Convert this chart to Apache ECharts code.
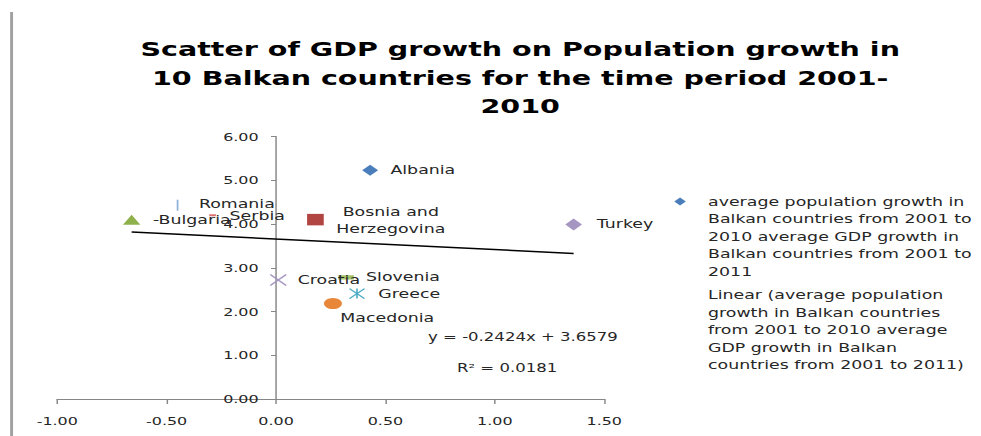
<!DOCTYPE html>
<html>
<head>
<meta charset="utf-8">
<script src="https://cdn.jsdelivr.net/npm/echarts@6.0.0/dist/echarts.min.js"></script>
<style>
  html, body { margin: 0; padding: 0; background: #fff; overflow: hidden; width: 981px; height: 436px; }
  /* chart is laid out at a narrower width and widened horizontally */
  #chart { width: 677px; height: 436px; transform: scaleX(1.44904); transform-origin: 0 0; }
</style>
</head>
<body>
<div id="chart"></div>
<script>
// ---- data ----
const countries = ['Albania', 'Bosnia and Herzegovina', 'Turkey', 'Bulgaria', 'Romania',
                   'Serbia', 'Croatia', 'Slovenia', 'Greece', 'Macedonia'];
// average population growth 2001-2010 (%)
const popGrowth = [0.43, 0.18, 1.36, -0.66, -0.45, -0.29, 0.01, 0.32, 0.37, 0.26];
// average GDP growth 2001-2011 (%)
const gdpGrowth = [5.23, 4.10, 3.99, 4.10, 4.43, 4.20, 2.72, 2.78, 2.41, 2.18];

const xTickValues = [-1.00, -0.50, 0.00, 0.50, 1.00, 1.50];
const yTickValues = [0.00, 1.00, 2.00, 3.00, 4.00, 5.00, 6.00];

// linear trendline fitted to the points
const trendSlope = -0.2424;
const trendIntercept = 3.6579;
const trendR2 = 0.0181;

const titleLines = [
  'Scatter of GDP growth on Population growth in',
  '10 Balkan countries for the time period 2001-',
  '2010'
];
const seriesName = 'average population growth in Balkan countries from 2001 to 2010 average GDP growth in Balkan countries from 2001 to 2011';
const trendName = 'Linear (' + seriesName + ')';
const legendLines = [
  'average population growth in',
  'Balkan countries from 2001 to',
  '2010 average GDP growth in',
  'Balkan countries from 2001 to',
  '2011'
];
const trendLegendLines = [
  'Linear (average population',
  'growth in Balkan countries',
  'from 2001 to 2010 average',
  'GDP growth in Balkan',
  'countries from 2001 to 2011)'
];

// ---- styling ----
const FONT = 'DejaVu Sans';
const TEXT = '#262626';
const AXIS = '#868686';

// text shown next to a point when it differs from the country name
const labelText = {
  'Bulgaria': '-Bulgaria',
  'Bosnia and Herzegovina': 'Bosnia and\nHerzegovina'
};

const markerStyle = {
  'Albania':                { symbol: 'diamond', size: [11, 11], fill: '#4a7ebb' },
  'Bosnia and Herzegovina': { symbol: 'rect', size: [11.5, 11.5], fill: '#b04542' },
  'Turkey':                 { symbol: 'diamond', size: [11.5, 12], fill: '#a596c2' },
  'Bulgaria':               { symbol: 'triangle', size: [12, 10], fill: '#8fb14c' },
  'Romania':                { symbol: 'rect', size: [1.2, 11], fill: '#8fb0d8' },
  'Serbia':                 { symbol: 'rect', size: [4.6, 2], fill: '#e07070' },
  'Croatia':                { symbol: 'path://M0,0L10,10M10,0L0,10', size: [11, 11], stroke: '#a596c2' },
  'Slovenia':               { symbol: 'rect', size: [10.8, 4.3], fill: '#a3c26a' },
  'Greece':                 { symbol: 'path://M0,0L10,10M10,0L0,10M5,0L5,10', size: [10.4, 10], stroke: '#4bacc6' },
  'Macedonia':              { symbol: 'circle', size: [12.4, 11], fill: '#e8873a' }
};

const labelPlacement = {
  'Albania':                { align: 'left', dx: 14, dy: 0 },
  'Bosnia and Herzegovina': { align: 'center', dx: 52, dy: 1 },
  'Turkey':                 { align: 'left', dx: 16, dy: 0 },
  'Bulgaria':               { align: 'left', dx: 14.7, dy: 0 },
  'Romania':                { align: 'left', dx: 14.7, dy: -1 },
  'Serbia':                 { align: 'left', dx: 11.7, dy: 1 },
  'Croatia':                { align: 'left', dx: 13.4, dy: 0 },
  'Slovenia':               { align: 'left', dx: 13.8, dy: 0 },
  'Greece':                 { align: 'left', dx: 14.7, dy: 0 },
  'Macedonia':              { align: 'center', dx: 37.5, dy: 14 }
};

const points = countries.map(function (name, i) {
  const m = markerStyle[name];
  const p = labelPlacement[name];
  return {
    name: name,
    value: [popGrowth[i], gdpGrowth[i]],
    symbol: m.symbol,
    symbolSize: m.size,
    itemStyle: m.stroke
      ? { color: 'rgba(0,0,0,0)', borderColor: m.stroke, borderWidth: 1.1, opacity: 1 }
      : { color: m.fill, opacity: 1 },
    label: {
      show: true,
      formatter: labelText[name] || name,
      position: 'inside',
      align: p.align,
      verticalAlign: 'middle',
      offset: [p.dx, p.dy],
      color: TEXT,
      fontFamily: FONT,
      fontSize: 12,
      lineHeight: 17.5
    }
  };
});

// trendline across the range of the observed x values
const xMin = Math.min.apply(null, popGrowth);
const xMax = Math.max.apply(null, popGrowth);
const trendData = [xMin, xMax].map(function (x) { return [x, trendSlope * x + trendIntercept]; });

const fmt2 = function (v) { return v.toFixed(2); };
const xStep = xTickValues[1] - xTickValues[0];
const yStep = yTickValues[1] - yTickValues[0];
const GRID_LEFT = 39.5;

const chart = echarts.init(document.getElementById('chart'), null, { renderer: 'svg' });

chart.setOption({
  animation: false,
  backgroundColor: '#fff',
  title: {
    text: titleLines.join('\n'),
    left: 354,
    top: 30,
    textAlign: 'center',
    textStyle: { fontFamily: FONT, fontWeight: 'bold', fontSize: 19.7, lineHeight: 28.5, color: '#000' }
  },
  grid: { left: GRID_LEFT, right: 260, top: 136.5, bottom: 37, containLabel: false },
  xAxis: {
    type: 'value',
    min: xTickValues[0],
    max: xTickValues[xTickValues.length - 1],
    interval: xStep,
    splitLine: { show: false },
    axisLine: { lineStyle: { color: AXIS, width: 1 } },
    axisTick: { length: 5, lineStyle: { color: AXIS } },
    axisLabel: { formatter: fmt2, margin: 16, color: TEXT, fontFamily: FONT, fontSize: 11 }
  },
  yAxis: {
    type: 'value',
    min: yTickValues[0],
    max: yTickValues[yTickValues.length - 1],
    interval: yStep,
    splitLine: { show: false },
    axisLine: { show: true, onZero: false, lineStyle: { color: AXIS, width: 1 } },
    axisTick: { show: true, length: 3.5, lineStyle: { color: AXIS } },
    axisLabel: { formatter: fmt2, margin: 12, color: TEXT, fontFamily: FONT, fontSize: 11 }
  },
  series: [
    {
      name: seriesName,
      type: 'scatter',
      data: points,
      z: 3
    },
    {
      name: trendName,
      type: 'line',
      data: trendData,
      symbol: 'none',
      lineStyle: { color: '#000', width: 1.5 },
      z: 2
    }
  ],
  graphic: [
    // chart frame edge
    { type: 'line', shape: { x1: 8, y1: 12, x2: 8, y2: 436 }, style: { stroke: '#a0a0a0', lineWidth: 2 } },
    // trendline equation and R²
    { type: 'text', x: 295.4, y: 337, style: {
        text: 'y = ' + trendSlope.toFixed(4) + 'x + ' + trendIntercept.toFixed(4),
        font: '11.4px "DejaVu Sans"', fill: TEXT, verticalAlign: 'middle' } },
    { type: 'text', x: 315.4, y: 368, style: {
        text: 'R\u00B2 = ' + trendR2.toFixed(4),
        font: '11.4px "DejaVu Sans"', fill: TEXT, verticalAlign: 'middle' } },
    // legend
    { type: 'polygon', shape: { points: [[469.3, 197.5], [473.3, 201.5], [469.3, 205.5], [465.3, 201.5]] },
      style: { fill: '#4a7ebb' } },
    { type: 'text', x: 488.6, y: 193, style: {
        text: legendLines.join('\n'), font: '12px "DejaVu Sans"', lineHeight: 17.5,
        fill: TEXT, verticalAlign: 'top' } },
    { type: 'text', x: 488.6, y: 286.3, style: {
        text: trendLegendLines.join('\n'), font: '12px "DejaVu Sans"', lineHeight: 17.5,
        fill: TEXT, verticalAlign: 'top' } }
  ]
});

// move the value axis (line, ticks and labels) to where x = 0
const zeroX = chart.convertToPixel({ xAxisIndex: 0 }, 0);
chart.setOption({ yAxis: { offset: GRID_LEFT - zeroX } });
</script>
</body>
</html>
